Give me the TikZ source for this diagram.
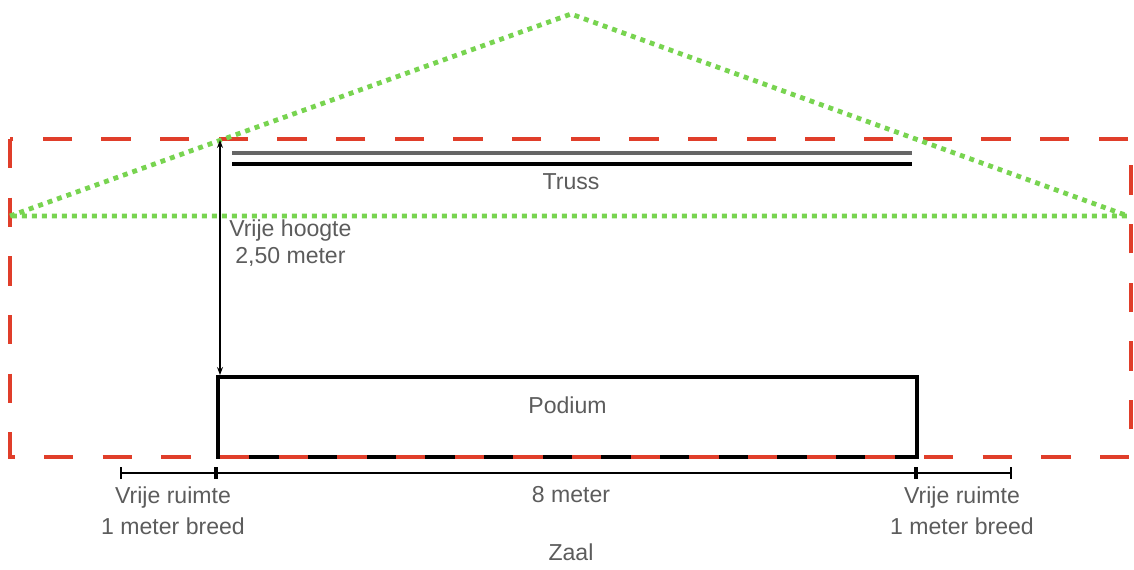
\documentclass[tikz,border=0pt]{standalone}
\usepackage{fontspec}
\setmainfont{Liberation Sans}
\usetikzlibrary{positioning,calc,arrows.meta}
\definecolor{zaalred}{RGB}{224,62,42}
\definecolor{dakgreen}{RGB}{120,212,80}
\definecolor{labelgray}{RGB}{92,92,92}

\begin{document}
\begin{tikzpicture}[x=0.75pt,y=-0.75pt,
  lbl/.style={text=labelgray,font=\fontsize{17.3}{20}\selectfont,align=center,inner sep=0pt},
  lblwide/.style={lbl,font=\fontsize{17.3}{23}\selectfont},
  zaal/.style={draw=zaalred,line width=3pt,dash pattern=on 22pt off 22pt},
  dak/.style={draw=dakgreen,line width=3.6pt,dash pattern=on 3.7pt off 3.8pt},
  podiumbox/.style={draw,line width=3pt,minimum width=524pt,minimum height=60pt,inner sep=0pt},
  maat/.style={line width=1.5pt,{Bar[width=9pt]}-{Bar[width=9pt]}},
  arr/.style={{Stealth[length=6pt]}-{Stealth[length=6pt]},line width=0.9pt}]
  \useasboundingbox (0,0) rectangle (1134,569);

  % Podium
  \node[podiumbox] (podium) at (567.5,417) {};
  \node[lbl,below=16pt of podium.north] (podiumtxt) {Podium};

  % Truss
  \coordinate (truss-l) at (232,153);
  \coordinate (truss-r) at (912,153);
  \draw[line width=3pt,black!60] (truss-l) -- (truss-r);
  \draw[line width=3pt] ($(truss-l)+(0,11)$) -- ($(truss-r)+(0,11)$);
  \node[lbl] (trusstxt) at (571,182) {Truss};

  % Zaal (red dashed)
  \draw[zaal] (10,139) rectangle (1131,457);

  % Roof (green dotted)
  \coordinate (dak-l) at (10,216);
  \coordinate (dak-top) at (571,14);
  \coordinate (dak-r) at (1128,216);
  \draw[dak] (dak-l) -- (dak-top) -- (dak-r) -- cycle;

  % Vrije hoogte
  \coordinate (hoogte) at (220,140);
  \draw[arr] (podium.north west -| hoogte) -- (hoogte);
  \node[lbl,anchor=north west] (hoogtetxt) at (229,220) {Vrije hoogte\\2,50 meter};

  % Dimension line
  \coordinate (m0) at (120,473);
  \coordinate (m1) at (216,473);
  \coordinate (m2) at (916,473);
  \coordinate (m3) at (1012,473);
  \draw[maat] (m0) -- (m1);
  \draw[maat] (m1) -- (m2);
  \draw[maat] (m2) -- (m3);
  \node[lblwide,anchor=north] (ruimte-l) at (173,487) {Vrije ruimte\\1 meter breed};
  \node[lbl,anchor=north] (breedte) at (571,486) {8 meter};
  \node[lblwide,anchor=north] (ruimte-r) at (962,487) {Vrije ruimte\\1 meter breed};
  \node[lbl,anchor=north] (zaaltxt) at (571,544) {Zaal};
\end{tikzpicture}
\end{document}
